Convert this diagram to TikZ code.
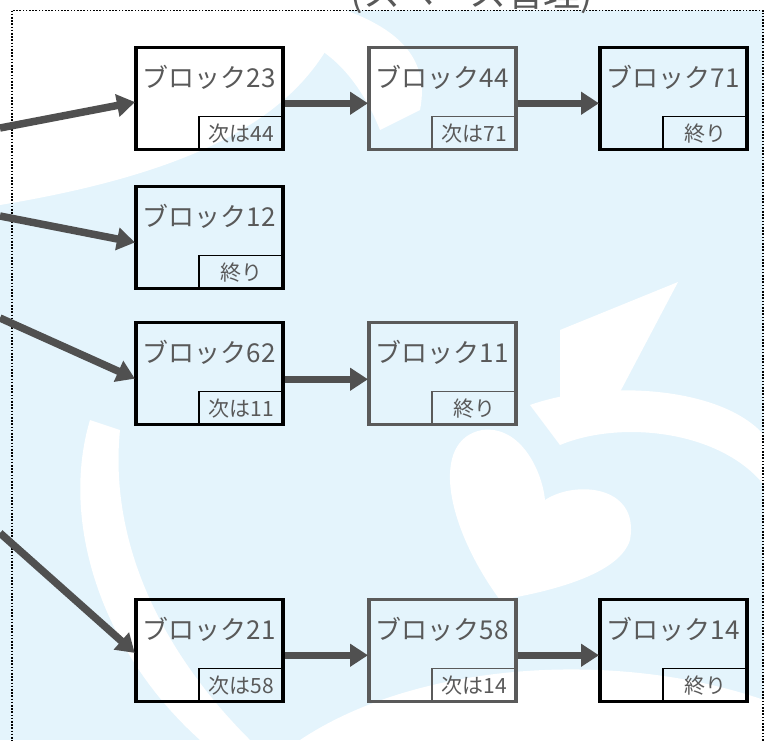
\documentclass[tikz,border=0pt]{standalone}
\usepackage{fontspec}
\setmainfont{Noto Sans CJK JP}
\usetikzlibrary{arrows.meta}
\definecolor{bgblue}{HTML}{E4F4FC}
\definecolor{txtgray}{HTML}{595959}
\definecolor{boxgray}{HTML}{5A5A5A}
\definecolor{arrowgray}{HTML}{505050}
\begin{document}
\begin{tikzpicture}[x=1pt,y=-1pt,
  blk/.style={draw=black, line width=3.5pt, minimum width=147pt, minimum height=102pt, inner sep=0pt, anchor=north west},
  gblk/.style={blk, draw=boxgray},
  maintxt/.style={text=txtgray, font=\fontsize{26}{30}\selectfont, inner sep=0pt},
  subbox/.style={draw=black, line width=1.5pt, minimum width=85pt, minimum height=34pt, inner sep=0pt, anchor=south east, text=txtgray, font=\fontsize{21}{24}\selectfont},
  gsubbox/.style={subbox, draw=boxgray},
  link/.style={draw=arrowgray, line width=7.5pt, -{Triangle[length=18pt,width=22pt]}, shorten >=-1pt},
  frame/.style={draw=black, line width=1.6pt, dash pattern=on 1.6pt off 1.6pt}
]
\useasboundingbox (0,0) rectangle (764,740);
% background
\fill[bgblue] (0,0) rectangle (764,740);
\fill[white] (0,0) -- (764,0) -- (764,10) -- (345,10) .. controls (310,110) and (210,170) .. (0,205) -- cycle;
\fill[white] (345,10) .. controls (400,30) and (430,60) .. (420,110) -- (380,130) .. controls (360,80) and (330,50) .. (300,40) -- cycle;
\fill[white] (500,600) .. controls (445,525) and (430,440) .. (482,430) .. controls (520,425) and (542,470) .. (545,500) .. controls (575,480) and (640,485) .. (630,540) .. controls (620,572) and (560,590) .. (500,600) -- cycle;
\fill[white] (530,405) .. controls (600,380) and (720,385) .. (764,435) -- (764,485) .. controls (720,430) and (620,420) .. (560,445) -- cycle;
\fill[white] (90,420) .. controls (60,520) and (100,650) .. (200,740) -- (250,740) .. controls (150,640) and (110,530) .. (120,430) -- cycle;
\fill[white] (560,330) -- (678,282) -- (620,392) -- (560,400) -- cycle;
\fill[white] (300,740) .. controls (420,660) and (620,650) .. (764,700) -- (764,740) -- cycle;
% frame
\draw[frame] (12,10.5) rectangle (763,760);
\node[text=txtgray, font=\fontsize{37}{40}\selectfont, inner sep=0pt] (title) at (472,-6) {(スペース管理)};
% row 1
\node[blk]  (b23) at (134,45.5) {};
\node[gblk] (b44) at (367,45.5) {};
\node[blk]  (b71) at (598,45.5) {};
% row 2
\node[blk]  (b12) at (134,184.5) {};
% row 3
\node[blk]  (b62) at (134,320.5) {};
\node[gblk] (b11) at (367,320.5) {};
% row 4
\node[blk]  (b21) at (134,597.5) {};
\node[gblk] (b58) at (367,597.5) {};
\node[blk]  (b14) at (598,597.5) {};
% labels
\foreach \n/\t in {b23/ブロック23,b44/ブロック44,b71/ブロック71,b12/ブロック12,b62/ブロック62,b11/ブロック11,b21/ブロック21,b58/ブロック58,b14/ブロック14}
  \node[maintxt] (\n t) at ([yshift=-32pt]\n.north) {\t};
\node[subbox]  (b23s) at (b23.south east) {次は44};
\node[gsubbox] (b44s) at (b44.south east) {次は71};
\node[subbox]  (b71s) at (b71.south east) {終り};
\node[subbox]  (b12s) at (b12.south east) {終り};
\node[subbox]  (b62s) at (b62.south east) {次は11};
\node[gsubbox] (b11s) at (b11.south east) {終り};
\node[subbox]  (b21s) at (b21.south east) {次は58};
\node[gsubbox] (b58s) at (b58.south east) {次は14};
\node[subbox]  (b14s) at (b14.south east) {終り};
% free ends
\coordinate (s1) at (0,128);
\coordinate (s2) at (0,216);
\coordinate (s3) at (0,318);
\coordinate (s4) at (0,533);
% connectors
\draw[link] (s1) -- ([yshift=-4pt]b23.west);
\draw[link] (s2) -- ([yshift=-5pt]b12.west);
\draw[link] (s3) -- ([yshift=-5pt]b62.west);
\draw[link] (s4) -- ([yshift=-2pt]b21.west);
\draw[link] ([yshift=-5pt]b23.east) -- ([yshift=-5pt]b44.west);
\draw[link] ([yshift=-5pt]b44.east) -- ([yshift=-5pt]b71.west);
\draw[link] ([yshift=-6pt]b62.east) -- ([yshift=-6pt]b11.west);
\draw[link] ([yshift=-5pt]b21.east) -- ([yshift=-5pt]b58.west);
\draw[link] ([yshift=-5pt]b58.east) -- ([yshift=-5pt]b14.west);
\end{tikzpicture}
\end{document}
